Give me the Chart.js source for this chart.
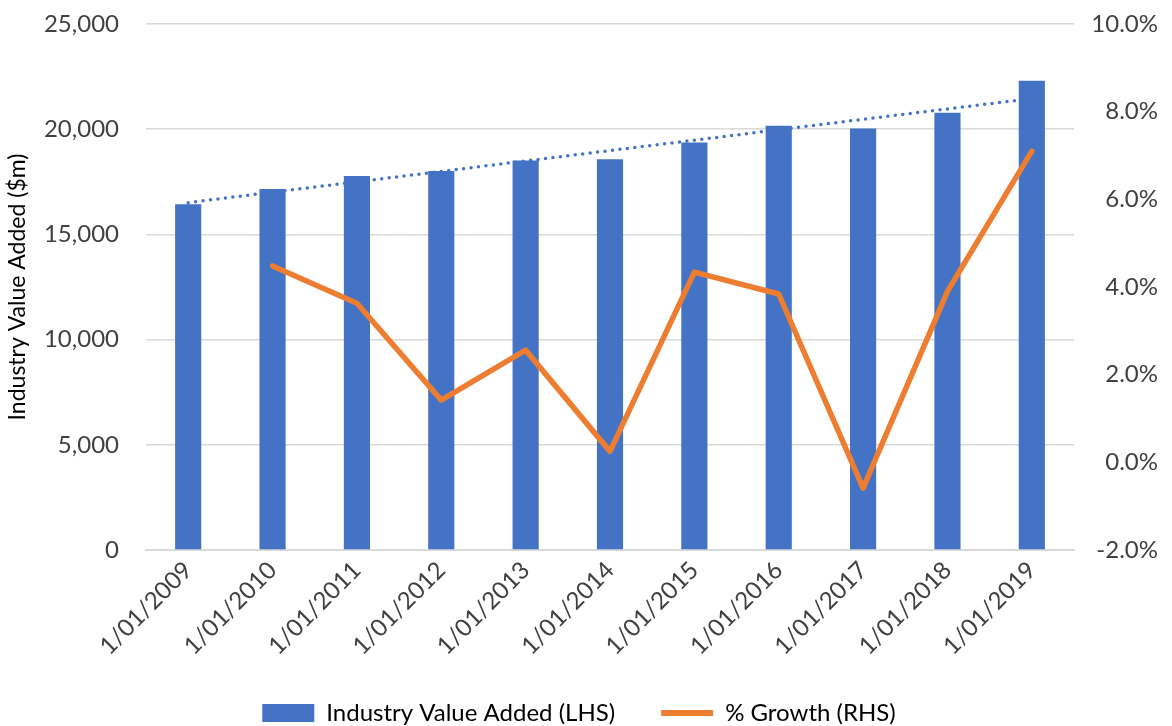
<!DOCTYPE html>
<html>
<head>
<meta charset="utf-8">
<script src="https://cdn.jsdelivr.net/npm/chart.js@4/dist/chart.umd.min.js"></script>
<style>
  html, body { margin: 0; padding: 0; background: #fff; }
  #wrap { width: 1172px; height: 726px; }
</style>
</head>
<body>
<div id="wrap"><canvas id="chart"></canvas></div>
<script>
const years = ['1/01/2009', '1/01/2010', '1/01/2011', '1/01/2012', '1/01/2013', '1/01/2014',
               '1/01/2015', '1/01/2016', '1/01/2017', '1/01/2018', '1/01/2019'];
const valueAdded = [16430, 17160, 17780, 18010, 18510, 18570, 19370, 20160, 20030, 20780, 22300];
const growth = [null, 4.48, 3.63, 1.42, 2.56, 0.25, 4.34, 3.84, -0.59, 3.90, 7.10];
// linear trend of value added, start and end points only
const trend = [16510, null, null, null, null, null, null, null, null, null, 21460];

const blue = '#4472C4';
const orange = '#ED7D31';
const textColor = '#404040';
Chart.defaults.font.family = 'Lato, "Open Sans", sans-serif';
Chart.defaults.color = textColor;

// fixed box sizes so the plot area sits where it should
function fitLeft(s) { s.width = 146; s.paddingTop = 0; s.paddingBottom = 0; }
function fitRight(s) { s.width = 84; s.paddingTop = 0; s.paddingBottom = 0; }
function fitBottom(s) { s.height = 105; s.paddingLeft = 0; s.paddingRight = 0; }

function drawChart(domID) {
    var ctx = document.getElementById(domID).getContext('2d');
    var myChart = new Chart(ctx, {
        type: 'bar',
        data: {
            labels: years,
            datasets: [{
                label: 'Industry Value Added (LHS)',
                data: valueAdded,
                backgroundColor: blue,
                yAxisID: 'y',
                barPercentage: 0.31,
                categoryPercentage: 1,
                order: 3
            }, {
                type: 'line',
                label: 'trend',
                data: trend,
                spanGaps: true,
                borderColor: blue,
                borderWidth: 3.5,
                borderDash: [0, 7.5],
                borderCapStyle: 'round',
                pointRadius: 0,
                yAxisID: 'y',
                order: 2
            }, {
                type: 'line',
                label: '% Growth (RHS)',
                data: growth,
                borderColor: orange,
                backgroundColor: orange,
                borderWidth: 5.5,
                borderCapStyle: 'round',
                borderJoinStyle: 'round',
                pointRadius: 0,
                tension: 0,
                yAxisID: 'y1',
                order: 1
            }]
        },
        options: {
            responsive: true,
            maintainAspectRatio: false,
            animation: false,
            layout: { padding: { top: 24, left: 0, right: 14, bottom: -9 } },
            plugins: {
                tooltip: { enabled: false },
                legend: {
                    position: 'bottom',
                    labels: {
                        font: { size: 24 },
                        color: textColor,
                        usePointStyle: true,
                        pointStyleWidth: 52,
                        boxHeight: 18,
                        padding: 46,
                        generateLabels: function (chart) {
                            return [{
                                text: 'Industry Value Added (LHS)',
                                fillStyle: blue,
                                strokeStyle: blue,
                                lineWidth: 0,
                                pointStyle: 'rect',
                                datasetIndex: 0
                            }, {
                                text: '% Growth (RHS)',
                                fillStyle: orange,
                                strokeStyle: orange,
                                lineWidth: 6,
                                pointStyle: 'line',
                                datasetIndex: 2
                            }];
                        }
                    }
                }
            },
            scales: {
                x: {
                    afterFit: fitBottom,
                    grid: { display: false, drawTicks: false },
                    border: { color: '#d9d9d9', width: 2 },
                    ticks: {
                        font: { size: 24 },
                        color: textColor,
                        minRotation: 45,
                        maxRotation: 45,
                        padding: 6
                    }
                },
                y: {
                    position: 'left',
                    min: 0,
                    max: 25000,
                    afterFit: fitLeft,
                    grid: { color: '#d9d9d9', lineWidth: 1.5, drawTicks: false },
                    border: { display: false },
                    ticks: {
                        stepSize: 5000,
                        font: { size: 24 },
                        color: textColor,
                        padding: 27,
                        callback: v => v.toLocaleString('en-US')
                    },
                    title: {
                        display: true,
                        text: 'Industry Value Added ($m)',
                        font: { size: 23 },
                        color: '#000',
                        padding: { top: 4, bottom: 0 }
                    }
                },
                y1: {
                    position: 'right',
                    min: -2,
                    max: 10,
                    afterFit: fitRight,
                    grid: { display: false, drawTicks: false },
                    border: { display: false },
                    ticks: {
                        stepSize: 2,
                        crossAlign: 'far',
                        font: { size: 24 },
                        color: textColor,
                        callback: v => v.toFixed(1) + '%'
                    }
                }
            }
        }
    });
    return myChart;
}

drawChart('chart');
</script>
</body>
</html>
